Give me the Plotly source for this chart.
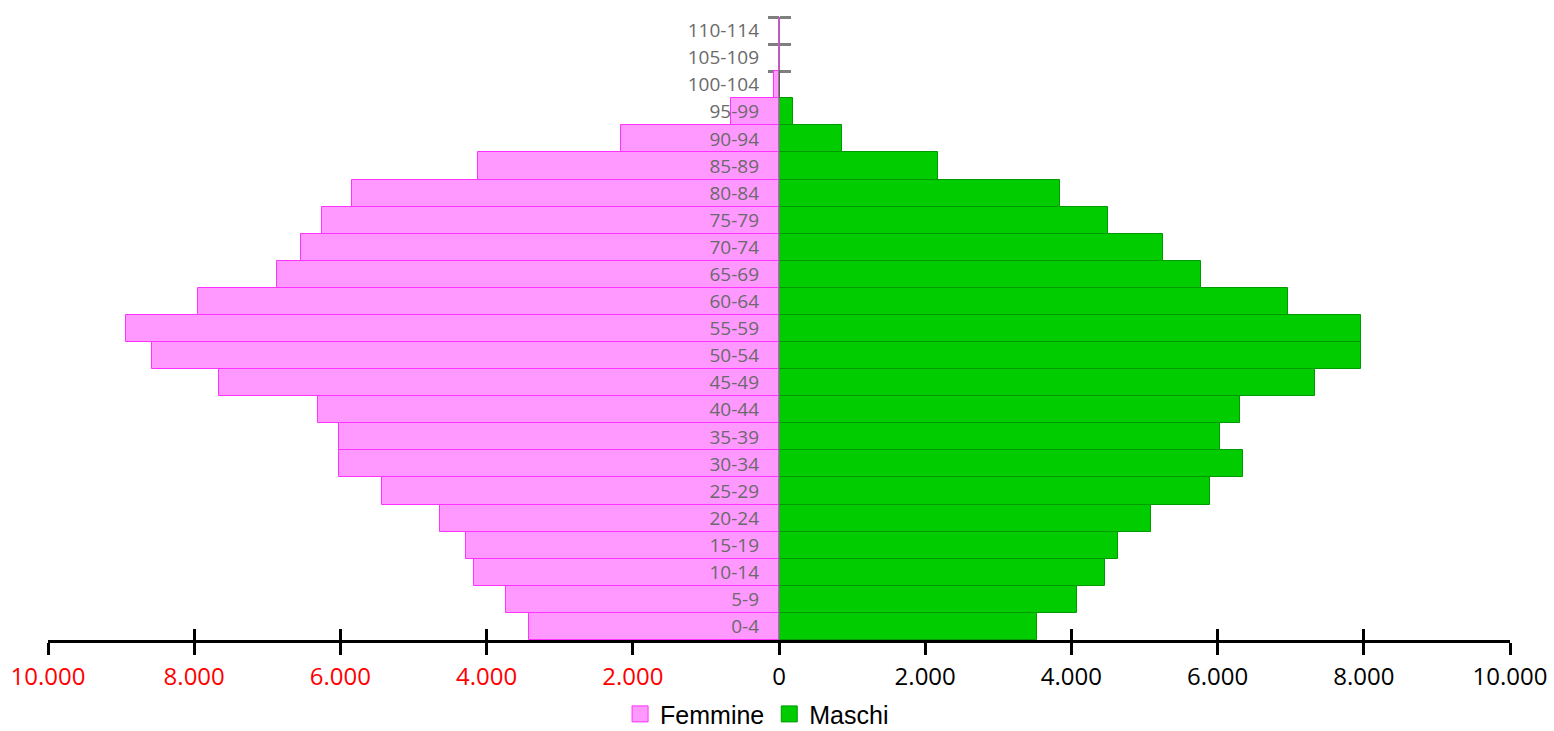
import plotly.graph_objects as go

# Population by five-year age group
age_groups = ["0-4", "5-9", "10-14", "15-19", "20-24", "25-29", "30-34", "35-39",
              "40-44", "45-49", "50-54", "55-59", "60-64", "65-69", "70-74", "75-79",
              "80-84", "85-89", "90-94", "95-99", "100-104", "105-109", "110-114"]
femmine = [3420, 3730, 4172, 4277, 4633, 5427, 6015, 6015, 6304, 7665, 8573, 8933,
           7952, 6865, 6537, 6252, 5837, 4120, 2159, 650, 64, 0, 0]
maschi = [3525, 4079, 4465, 4632, 5091, 5901, 6347, 6033, 6302, 7330, 7955, 7955,
          6963, 5773, 5258, 4499, 3840, 2173, 868, 192, 20, 0, 0]
x_tick_values = list(range(-10000, 10001, 2000))

PINK, PINK_LINE = "#ff99ff", "#ff33ff"
GREEN, GREEN_LINE = "#00cc00", "#009900"
AXIS_GRAY = "#7f7f7f"


def fmt_thousands(v):
    s = f"{abs(v):,}".replace(",", ".")
    return f"<span style='color:#ff0000'>{s}</span>" if v < 0 else s


positions = list(range(len(age_groups)))
boundaries = [p - 0.5 for p in positions] + [positions[-1] + 0.5]
y_range = [boundaries[0], boundaries[-1]]

fig = go.Figure()

fig.add_trace(go.Bar(
    y=positions, x=maschi, orientation="h", name="Maschi",
    marker=dict(color=GREEN, line=dict(color=GREEN_LINE, width=1)),
    showlegend=False,
))
fig.add_trace(go.Bar(
    y=positions, x=[-v for v in femmine], orientation="h", name="Femmine",
    marker=dict(color=PINK, line=dict(color=PINK_LINE, width=1)),
    showlegend=False,
))

# legend entries with larger square swatches
fig.add_trace(go.Scatter(x=[None], y=[None], mode="markers", name="Femmine",
                         marker=dict(symbol="square", size=16, color=PINK,
                                     line=dict(color=PINK_LINE, width=1))))
fig.add_trace(go.Scatter(x=[None], y=[None], mode="markers", name="Maschi",
                         marker=dict(symbol="square", size=16, color=GREEN,
                                     line=dict(color=GREEN_LINE, width=1))))

# helper traces so the tick-only axes get drawn
fig.add_trace(go.Scatter(x=[None], y=[None], xaxis="x2", yaxis="y2", showlegend=False, hoverinfo="skip"))
fig.add_trace(go.Scatter(x=[None], y=[None], xaxis="x", yaxis="y3", showlegend=False, hoverinfo="skip"))

fig.update_layout(
    width=1554, height=731,
    margin=dict(l=48, r=44, t=17, b=91, autoexpand=False),
    paper_bgcolor="white", plot_bgcolor="white",
    barmode="overlay", bargap=0,
    font=dict(family="Open Sans", color="black"),
    xaxis=dict(
        range=[-10000, 10000], tickvals=x_tick_values,
        ticktext=[fmt_thousands(v) for v in x_tick_values],
        ticks="outside", ticklen=12, tickwidth=3, tickcolor="black",
        showline=True, linecolor="black", linewidth=3,
        showgrid=False, zeroline=False,
        tickfont=dict(family="Open Sans", size=24, color="black"),
        ticklabelstandoff=1,
    ),
    xaxis2=dict(
        overlaying="x", anchor="y", range=[-10000, 10000], tickvals=x_tick_values,
        ticks="inside", ticklen=11, tickwidth=3, tickcolor="black",
        showticklabels=False, showline=False, showgrid=False, zeroline=False,
        layer="below traces",
    ),
    yaxis=dict(
        range=y_range, tickvals=positions, ticktext=age_groups,
        anchor="free", position=0.5, ticks="", showline=False,
        showgrid=False, zeroline=False, layer="above traces",
        tickfont=dict(family="Open Sans", size=19, color="#6a6a6a"),
        ticklabelstandoff=20,
    ),
    yaxis2=dict(
        overlaying="y", anchor="free", position=0.5, range=y_range,
        tickvals=boundaries, ticks="outside", ticklen=11, tickwidth=2.5,
        tickcolor=AXIS_GRAY, showline=True, linecolor=AXIS_GRAY, linewidth=1,
        showticklabels=False, showgrid=False, zeroline=False, layer="below traces",
    ),
    yaxis3=dict(
        overlaying="y", anchor="free", position=0.5, side="right", range=y_range,
        tickvals=boundaries, ticks="outside", ticklen=11, tickwidth=2.5,
        tickcolor=AXIS_GRAY, showline=False,
        showticklabels=False, showgrid=False, zeroline=False, layer="below traces",
    ),
    legend=dict(
        orientation="h", x=0.485, xanchor="center", y=-0.119, yanchor="middle",
        font=dict(family="Liberation Sans", size=25, color="black"),
        itemsizing="trace", bgcolor="rgba(0,0,0,0)", borderwidth=0,
    ),
    showlegend=True,
)

fig.write_html("out.html")
